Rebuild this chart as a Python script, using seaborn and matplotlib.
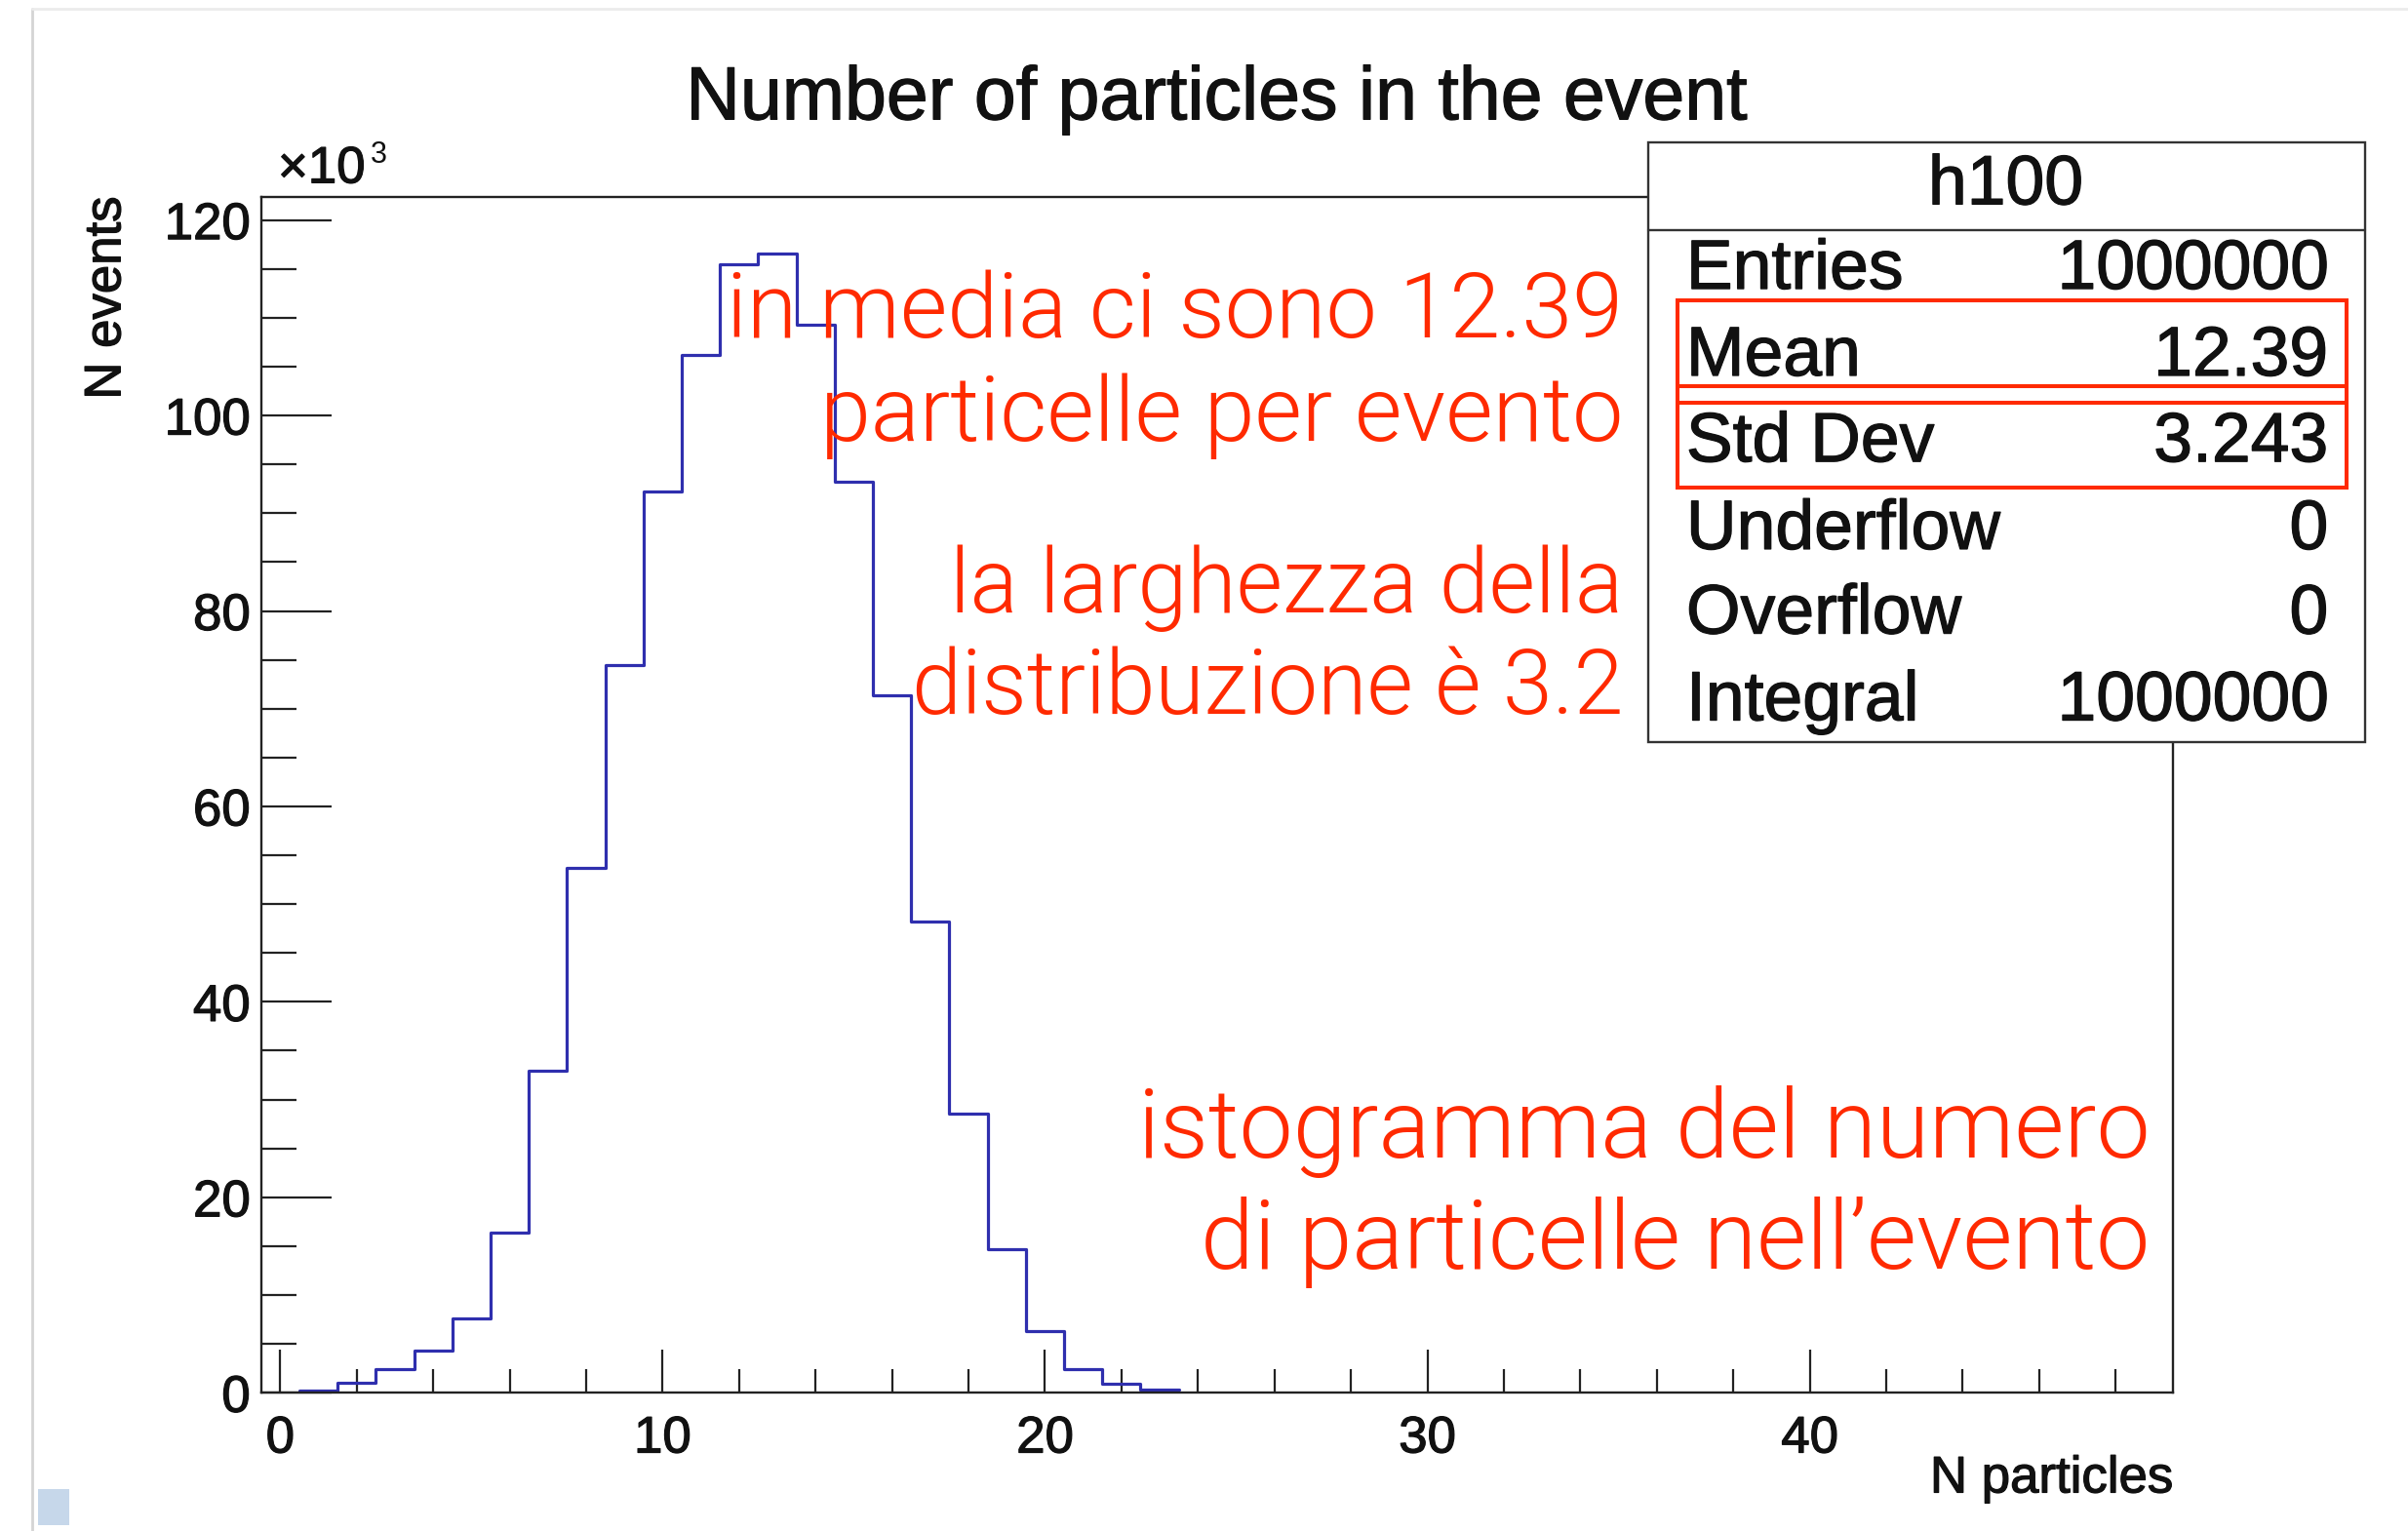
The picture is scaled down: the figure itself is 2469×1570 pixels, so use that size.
import numpy as np
import matplotlib
matplotlib.use("Agg")
import matplotlib.pyplot as plt
import matplotlib.font_manager as fm
import matplotlib.patheffects as pe
from matplotlib.patches import Rectangle
from matplotlib.lines import Line2D
from matplotlib.ticker import MultipleLocator
import seaborn as sns

# dati (conteggi in migliaia)
n_particles = list(range(1, 24))
counts_k = [0.2, 1.0, 2.4, 4.3, 7.6, 16.4, 33.0, 53.7, 74.5, 92.2, 106.2, 115.5,
            116.6, 109.3, 93.2, 71.4, 48.2, 28.6, 14.7, 6.3, 2.4, 0.9, 0.3]
x_ticks = [0, 10, 20, 30, 40]
y_ticks = [0, 20, 40, 60, 80, 100, 120]

stat_names = ["Entries", "Mean", "Std Dev", "Underflow", "Overflow", "Integral"]
stat_values = ["1000000", "12.39", "3.243", "0", "0", "1000000"]

note_mean = ["in media ci sono 12.39", "particelle per evento"]
note_width = ["la larghezza della", "distribuzione è 3.2"]
note_hist = ["istogramma del numero", "di particelle nell\u2019evento"]

BLUE = "#2f2fae"
RED = "#ff2a00"
INK = "#111111"

sns.set_style("ticks")
plt.rcParams["font.family"] = ["Liberation Sans", "DejaVu Sans"]

# testo un po' più scuro, come nello screenshot ROOT
heavy = [pe.withStroke(linewidth=0.9, foreground=INK)]

W, H = 1568, 997  # coordinate di lavoro (immagine ridotta)
def fx(x):
    return x / W
def fy(y):
    return 1 - y / H

fig = plt.figure(figsize=(24.69, 15.70), dpi=100, facecolor="white")
ax = fig.add_axes([fx(170), fy(907), (1415 - 170) / W, (907 - 128) / H])

sns.histplot(x=n_particles, weights=counts_k, discrete=True, element="step",
             fill=False, color=BLUE, linewidth=2.3, ax=ax)

ax.set_xlim(-0.5, 49.5)
ax.set_ylim(0, 122.4)
ax.set_xticks(x_ticks)
ax.set_yticks(y_ticks)
ax.xaxis.set_minor_locator(MultipleLocator(2))
ax.yaxis.set_minor_locator(MultipleLocator(5))
ax.tick_params(axis="y", which="major", direction="in", length=52, width=1.6,
               pad=8, labelsize=38, color="#222222", labelcolor=INK)
ax.tick_params(axis="y", which="minor", direction="in", length=26, width=1.6,
               color="#222222")
ax.tick_params(axis="x", which="major", direction="in", length=32, width=1.6,
               pad=16, labelsize=38, color="#222222", labelcolor=INK)
ax.tick_params(axis="x", which="minor", direction="in", length=17, width=1.6,
               color="#222222")
for s in ax.spines.values():
    s.set_visible(True)
    s.set_linewidth(1.7)
    s.set_color("#222222")
ax.grid(False)
for lab in ax.get_xticklabels() + ax.get_yticklabels():
    lab.set_path_effects(heavy)

ax.set_title("Number of particles in the event", fontsize=55.5, pad=57,
             color=INK, path_effects=heavy)
ax.set_xlabel("N particles", fontsize=38, loc="right", color=INK, path_effects=heavy)
ax.xaxis.set_label_coords(1.0, -0.0515)
ax.set_ylabel("N events", fontsize=38, loc="top", color=INK, path_effects=heavy)
ax.yaxis.set_label_coords(-0.068, 1.0)

# moltiplicatore asse y
fig.text(fx(181), fy(119), "\u00d710", fontsize=38, ha="left", va="baseline",
         color=INK, path_effects=heavy)
fig.text(fx(241), fy(106), "3", fontsize=22, ha="left", va="baseline", color=INK)

# riquadro statistiche
bx0, bx1, by0, by1 = 1073, 1540, 93, 483
fig.add_artist(Rectangle((fx(bx0), fy(by1)), fx(bx1) - fx(bx0), fy(by0) - fy(by1),
                         transform=fig.transFigure, facecolor="white",
                         edgecolor="#333333", linewidth=1.7, zorder=5))
fig.add_artist(Line2D([fx(bx0), fx(bx1)], [fy(150), fy(150)],
                      transform=fig.transFigure, color="#333333", linewidth=1.7, zorder=6))
fig.text(fx(1306), fy(133), "h100", fontsize=51.5, ha="center", va="baseline",
         zorder=7, color=INK, path_effects=heavy)
row_base = [188, 244.5, 300.5, 357.5, 412.5, 469]
for name, val, yb in zip(stat_names, stat_values, row_base):
    fig.text(fx(1098), fy(yb), name, fontsize=51.5, ha="left", va="baseline",
             zorder=7, color=INK, path_effects=heavy)
    fig.text(fx(1516), fy(yb), val, fontsize=51.5, ha="right", va="baseline",
             zorder=7, color=INK, path_effects=heavy)

# evidenziazione in rosso di Mean e Std Dev
rx0, rx1 = 1092.5, 1528
fig.add_artist(Rectangle((fx(rx0), fy(317.5)), fx(rx1) - fx(rx0), fy(195.8) - fy(317.5),
                         transform=fig.transFigure, facecolor="none",
                         edgecolor=RED, linewidth=2.9, zorder=8))
for yl in (251.5, 262.4):
    fig.add_artist(Line2D([fx(rx0), fx(rx1)], [fy(yl), fy(yl)], transform=fig.transFigure,
                          color=RED, linewidth=2.9, zorder=8))

# font leggero per le note
def light_font():
    for name in ["Roboto", "Lato", "Open Sans", "Inter", "Noto Sans"]:
        best = None
        for f in fm.fontManager.ttflist:
            if f.name != name or f.style != "normal":
                continue
            w = f.weight
            if isinstance(w, str):
                w = fm.weight_dict.get(w, 400)
            if 200 <= w <= 300 and (best is None or w > best[0]):
                best = (w, f.fname)
        if best:
            return best[1]
    return None

light_path = light_font()

def note(lines, x_right, baselines, target_w):
    texts = []
    for s, yb in zip(lines, baselines):
        if light_path:
            fp = fm.FontProperties(fname=light_path, size=60)
        else:
            fp = fm.FontProperties(family="Liberation Sans", size=60)
        texts.append(fig.text(fx(x_right), fy(yb), s, fontproperties=fp, color=RED,
                              ha="right", va="baseline", zorder=9))
    r = fig.canvas.get_renderer()
    w = max(t.get_window_extent(r).width for t in texts)
    scale = target_w * 2469 / W / w
    for t in texts:
        t.set_fontsize(60 * scale)

note(note_mean, 1057, [220, 287], 585)
note(note_width, 1057, [399, 465], 464)
note(note_hist, 1400, [754, 826], 660)

# cornice dello screenshot
fig.add_artist(Line2D([fx(21), fx(21)], [fy(5.7), 0], transform=fig.transFigure,
                      color="#d4d4d4", linewidth=2))
fig.add_artist(Line2D([fx(21), 1], [fy(5.7), fy(5.7)], transform=fig.transFigure,
                      color="#ebebeb", linewidth=2))
fig.add_artist(Rectangle((fx(25), fy(993)), fx(45) - fx(25), fy(970) - fy(993),
                         transform=fig.transFigure, facecolor="#c6d7ea",
                         edgecolor="none"))

fig.savefig("out.png", dpi=100, facecolor="white")
